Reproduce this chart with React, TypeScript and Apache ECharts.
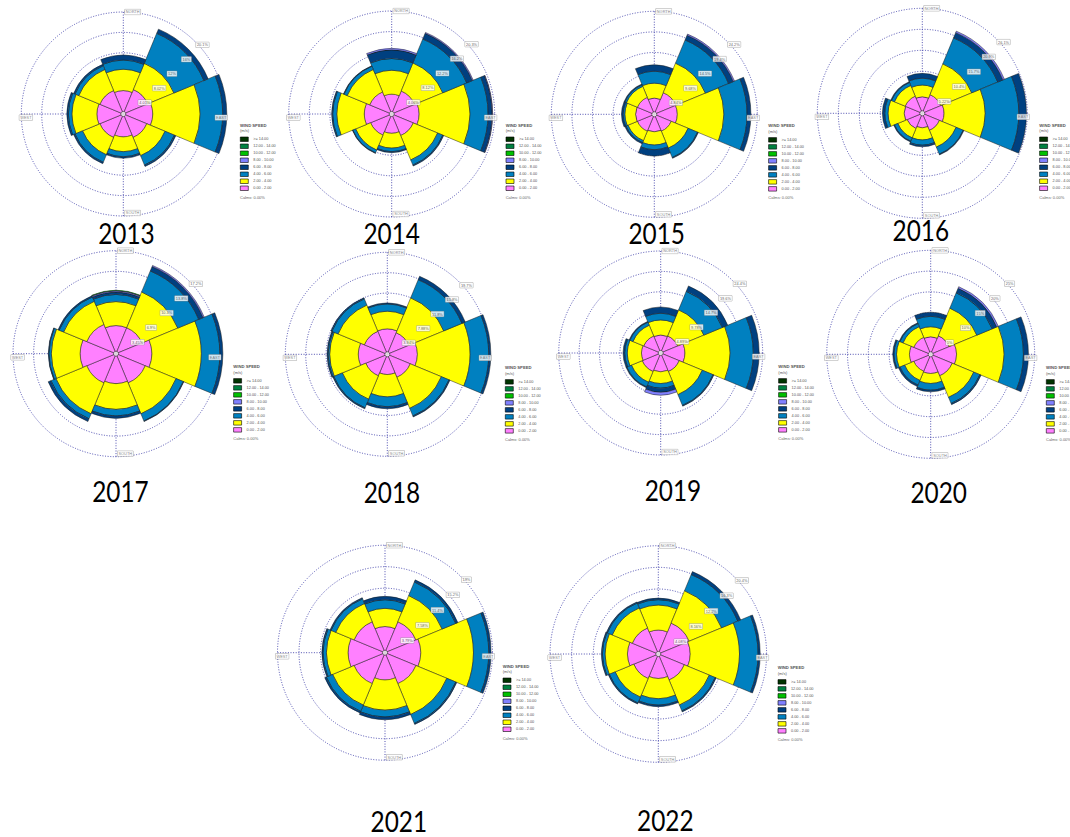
import { useEffect, useRef } from 'react';
import * as echarts from 'echarts';

// ---------- data ----------
const DIRECTIONS = ['N', 'NE', 'E', 'SE', 'S', 'SW', 'W', 'NW'];
const SPEED_CLASSES = ['0.00 - 2.00', '2.00 - 4.00', '4.00 - 6.00', '6.00 - 8.00', '8.00 - 10.00', '10.00 - 12.00', '12.00 - 14.00', '>= 14.00'];
const YEARS = ['2013', '2014', '2015', '2016', '2017', '2018', '2019', '2020', '2021', '2022'];
const COMPASS = ['NORTH', 'EAST', 'SOUTH', 'WEST'];
const COMPASS_ANGLES = [0, 90, 180, 270];
const CALMS = ['0.00%', '0.00%', '0.00%', '0.00%', '0.00%', '0.00%', '0.00%', '0.00%', '0.00%', '0.00%'];

// frequency (%) rows = speed class (0-2, 2-4, 4-6, 6-8, 8-10, 10-12), columns = N..NW
const F2013 = [
  [4.6, 5.2, 5.8, 5.0, 4.5, 5.0, 5.2, 5.0],
  [4.2, 5.6, 9.3, 3.9, 2.9, 3.7, 4.9, 4.5],
  [1.8, 6.4, 4.5, 2.0, 1.0, 1.6, 0.7, 0.8],
  [1.0, 0.9, 0.8, 0.3, 0.3, 0.3, 0.3, 0.3],
];
const F2014 = [
  [3.9, 4.9, 5.4, 4.6, 3.8, 4.5, 5.4, 4.7],
  [4.7, 6.0, 10.0, 5.2, 2.9, 3.2, 5.4, 4.8],
  [2.3, 5.1, 3.6, 1.1, 0.7, 0.6, 0.8, 0.7],
  [1.7, 1.2, 0.8, 0.2, 0.2, 0.1, 0.2, 0.1],
  [0.3, 0.2, 0.1, 0, 0, 0, 0, 0],
];
const F2015 = [
  [3.8, 5.5, 5.4, 4.3, 4.1, 4.3, 4.4, 4.3],
  [3.5, 7.5, 10.9, 4.3, 3.1, 2.4, 2.5, 2.8],
  [2.8, 5.9, 5.5, 2.4, 1.1, 0.5, 0.4, 0.4],
  [1.5, 1.2, 0.9, 0.2, 1.5, 0.3, 0.4, 0.2],
  [0, 0.3, 0, 0, 0, 0, 0, 0],
];
const F2016 = [
  [4.1, 5.0, 5.4, 4.6, 3.6, 4.1, 4.5, 4.6],
  [2.9, 8.3, 10.2, 4.5, 3.0, 2.5, 4.0, 2.9],
  [1.7, 7.0, 8.4, 1.9, 1.3, 0.9, 0.8, 0.8],
  [1.2, 1.4, 1.9, 0.2, 0.4, 0.2, 0.6, 0.2],
  [0, 0.4, 0, 0, 0, 0, 0, 0],
];
const F2017 = [
  [4.7, 4.7, 6.0, 5.3, 5.0, 5.3, 6.0, 5.3],
  [4.0, 6.5, 8.3, 5.6, 4.3, 5.6, 4.8, 4.2],
  [1.2, 3.8, 3.1, 1.3, 1.1, 0.9, 0.4, 0.8],
  [0.4, 0.8, 0.5, 0.1, 0.4, 0.5, 0.1, 0.2],
  [0.2, 0.2, 0, 0, 0, 0, 0, 0],
  [0.1, 0, 0, 0, 0, 0, 0, 0],
];
const F2018 = [
  [4.9, 4.5, 5.8, 4.8, 3.9, 4.5, 5.6, 4.8],
  [3.4, 7.3, 10.2, 6.5, 4.3, 4.9, 5.5, 5.5],
  [1.4, 3.8, 3.6, 1.6, 1.9, 1.8, 0.3, 1.3],
  [0.2, 0.7, 0.4, 0.2, 0.4, 0.2, 0.2, 0.2],
];
const F2019 = [
  [4.3, 4.4, 5.8, 4.8, 4.5, 4.8, 4.6, 4.4],
  [3.6, 6.8, 10.8, 6.0, 2.8, 2.8, 3.4, 2.8],
  [1.6, 4.8, 5.6, 2.8, 1.1, 1.2, 0.6, 0.8],
  [1.5, 1.4, 1.4, 0.2, 1.0, 0.2, 0.4, 0.2],
  [0, 0, 0, 0, 0.7, 0, 0, 0],
];
const F2020 = [
  [4.2, 4.8, 6.2, 5.6, 4.6, 4.4, 5.1, 4.4],
  [2.4, 7.2, 11.4, 5.6, 2.4, 2.4, 3.1, 2.8],
  [2.5, 4.0, 4.7, 1.6, 1.6, 1.2, 0.6, 0.8],
  [1.0, 1.2, 1.2, 0.3, 0.4, 0.4, 0.3, 0.2],
  [0, 0.4, 0, 0, 0, 0, 0, 0],
];
const F2021 = [
  [4.6, 5.9, 6.3, 5.9, 4.8, 5.9, 6.5, 5.9],
  [3.2, 5.0, 9.3, 5.9, 5.3, 4.1, 3.8, 3.5],
  [1.5, 2.6, 2.7, 1.7, 1.2, 1.2, 0.6, 0.9],
  [0.6, 0.4, 0.4, 0.2, 0.5, 0.3, 0.2, 0.2],
];
const F2022 = [
  [4.5, 6.3, 6.0, 5.3, 4.6, 5.0, 5.8, 5.3],
  [4.7, 6.6, 9.3, 5.1, 3.8, 3.8, 4.2, 4.1],
  [1.0, 3.3, 3.5, 1.2, 1.2, 1.2, 0.5, 1.0],
  [0.3, 0.6, 0.4, 0.2, 0.3, 0.2, 0.2, 0.2],
];
const FREQ = [F2013, F2014, F2015, F2016, F2017, F2018, F2019, F2020, F2021, F2022];

// outer ring value (%) and ring tick labels
const RING_MAX = [20.1, 20.3, 24.2, 26.1, 17.25, 19.7, 24.45, 25, 18.95, 20.4];
const RINGS_2013 = ['4.01%', '8.02%', '12%', '16%', '20.1%'];
const RINGS_2014 = ['4.06%', '8.12%', '12.2%', '16.2%', '20.3%'];
const RINGS_2015 = ['4.84%', '9.68%', '14.5%', '19.4%', '24.2%'];
const RINGS_2016 = ['5.22%', '10.4%', '15.7%', '20.9%', '26.1%'];
const RINGS_2017 = ['3.45%', '6.9%', '10.3%', '13.8%', '17.2%'];
const RINGS_2018 = ['3.94%', '7.88%', '11.8%', '15.8%', '19.7%'];
const RINGS_2019 = ['4.89%', '9.78%', '14.7%', '19.6%', '24.4%'];
const RINGS_2020 = ['5%', '10%', '15%', '20%', '25%'];
const RINGS_2021 = ['3.79%', '7.58%', '11.4%', '15.2%', '19%'];
const RINGS_2022 = ['4.08%', '8.16%', '12.2%', '16.3%', '20.4%'];
const RING_LABELS = [RINGS_2013, RINGS_2014, RINGS_2015, RINGS_2016, RINGS_2017, RINGS_2018, RINGS_2019, RINGS_2020, RINGS_2021, RINGS_2022];

// ---------- layout & style ----------
const LAYOUT = [
  { cx: 123.3, cy: 114, r: 102, lx: 240, ly: 136.7, yx: 126.5, yy: 233 },
  { cx: 391.7, cy: 114, r: 103, lx: 505.7, ly: 136.7, yx: 391.7, yy: 233 },
  { cx: 654.3, cy: 114.3, r: 103, lx: 768.3, ly: 137.3, yx: 656.7, yy: 233 },
  { cx: 922.3, cy: 113.3, r: 105, lx: 1039.3, ly: 136.7, yx: 920.8, yy: 230 },
  { cx: 116, cy: 353.7, r: 103, lx: 233.3, ly: 378.3, yx: 120.5, yy: 491.7 },
  { cx: 387.3, cy: 354.3, r: 102, lx: 505, ly: 379.3, yx: 392, yy: 492.5 },
  { cx: 660.7, cy: 353, r: 102, lx: 778.3, ly: 378.3, yx: 673, yy: 490 },
  { cx: 930.7, cy: 354.3, r: 104, lx: 1046, ly: 379.3, yx: 938.7, yy: 492.5 },
  { cx: 385, cy: 652.7, r: 107.5, lx: 502.7, ly: 677.7, yx: 398.8, yy: 821 },
  { cx: 658.3, cy: 654, r: 108.3, lx: 777.7, ly: 679.3, yx: 665.3, yy: 820 },
];
const CLASS_COLORS = ['#ff80ff', '#ffff00', '#0080c0', '#004080', '#8080ff', '#00c000', '#008040', '#003300'];
const GRID_COLOR = '#3c3ca8';
const SMALL_FONT = 'Liberation Sans';

function buildOption() {
  const polar: any[] = [];
  const angleAxis: any[] = [];
  const radiusAxis: any[] = [];
  const series: any[] = [];
  const legend: any[] = [];
  const graphic: any[] = [];
  const hidden = { show: false };
  const gridLine = { show: true, lineStyle: { color: GRID_COLOR, type: [1, 1.6], width: 0.9 } };
  const boxLabel = {
    show: true,
    fontSize: 3.9,
    fontFamily: SMALL_FONT,
    color: '#444',
    backgroundColor: '#ffffff',
    borderColor: '#8a8a8a',
    borderWidth: 0.4,
    padding: [0.6, 1],
  };

  YEARS.forEach((year, k) => {
    const L = LAYOUT[k];
    const gridIdx = 2 * k;
    const barIdx = 2 * k + 1;
    polar.push({ center: [L.cx, L.cy], radius: L.r });
    polar.push({ center: [L.cx, L.cy], radius: L.r });

    // grid polar: 5 rings, 4 compass spokes
    angleAxis.push({
      polarIndex: gridIdx, type: 'value', min: 0, max: 360, interval: 90, startAngle: 90, clockwise: true,
      axisLine: hidden, axisTick: hidden, axisLabel: hidden, splitLine: gridLine,
    });
    radiusAxis.push({
      polarIndex: gridIdx, type: 'value', min: 0, max: 5, interval: 1,
      axisLine: hidden, axisTick: hidden, axisLabel: hidden, splitLine: gridLine,
    });
    // petal polar
    angleAxis.push({
      polarIndex: barIdx, type: 'category', data: DIRECTIONS, startAngle: 112.5, clockwise: true, boundaryGap: true,
      axisLine: hidden, axisTick: hidden, axisLabel: hidden, splitLine: hidden,
    });
    radiusAxis.push({
      polarIndex: barIdx, type: 'value', min: 0, max: RING_MAX[k],
      axisLine: hidden, axisTick: hidden, axisLabel: hidden, splitLine: hidden,
    });

    SPEED_CLASSES.forEach((name, c) => {
      const row = FREQ[k][c];
      series.push({
        type: 'bar', name, coordinateSystem: 'polar', polarIndex: barIdx, stack: 'rose' + k,
        data: row ? row.map((v) => (v > 0 ? v : null)) : [],
        barCategoryGap: '0%', barGap: '0%', clip: false, z: 2, silent: true,
        itemStyle: { color: CLASS_COLORS[c], borderColor: '#1a1a1a', borderWidth: 0.5 },
      });
    });

    const labelData: any[] = [];
    RING_LABELS[k].forEach((t, i) => {
      labelData.push({
        value: [i + 1, 45],
        label: { ...boxLabel, color: '#333', formatter: t, position: [0, 0], align: 'left', verticalAlign: 'middle', offset: [0.5, 3] },
      });
    });
    const compassPlace = [
      { align: 'left', verticalAlign: 'middle', offset: [1.5, 0] },
      { align: 'right', verticalAlign: 'top', offset: [2, 1] },
      { align: 'left', verticalAlign: 'middle', offset: [1.5, -3] },
      { align: 'left', verticalAlign: 'top', offset: [-2, 1] },
    ];
    COMPASS.forEach((t, i) => {
      labelData.push({
        value: [5, COMPASS_ANGLES[i]],
        label: { ...boxLabel, color: '#666', formatter: t, position: [0, 0], ...compassPlace[i] },
      });
    });
    series.push({
      type: 'scatter', coordinateSystem: 'polar', polarIndex: gridIdx, silent: true, z: 5,
      symbol: 'circle', symbolSize: 0.01, itemStyle: { color: 'rgba(0,0,0,0)' },
      data: labelData,
    });
    series.push({
      type: 'scatter', coordinateSystem: 'polar', polarIndex: gridIdx, silent: true, z: 4,
      symbol: 'circle', symbolSize: 5,
      itemStyle: { color: '#ffffff', borderColor: '#222', borderWidth: 0.7 },
      data: [[0, 0]],
    });

    legend.push({
      orient: 'vertical', left: L.lx, top: L.ly, padding: 0,
      itemWidth: 8, itemHeight: 4.5, itemGap: 1.9, icon: 'rect', selectedMode: false,
      data: [...SPEED_CLASSES].reverse(),
      itemStyle: { borderColor: '#000', borderWidth: 0.6 },
      textStyle: { fontSize: 3.8, lineHeight: 4.5, color: '#555', fontFamily: SMALL_FONT },
    });

    graphic.push({
      type: 'text', x: L.lx, y: L.ly - 11.5, silent: true,
      style: { text: 'WIND SPEED', fontSize: 4.2, fontFamily: SMALL_FONT, fontWeight: 'bold', fill: '#555', align: 'left', verticalAlign: 'middle', textAlign: 'left', textVerticalAlign: 'middle' },
    });
    graphic.push({
      type: 'text', x: L.lx, y: L.ly - 6, silent: true,
      style: { text: '(m/s)', fontSize: 4, fontFamily: SMALL_FONT, fill: '#555', align: 'left', verticalAlign: 'middle', textAlign: 'left', textVerticalAlign: 'middle' },
    });
    graphic.push({
      type: 'text', x: L.lx, y: L.ly + 60.5, silent: true,
      style: { text: 'Calms: ' + CALMS[k], fontSize: 4, fontFamily: SMALL_FONT, fill: '#666', align: 'left', verticalAlign: 'middle', textAlign: 'left', textVerticalAlign: 'middle' },
    });
    graphic.push({
      type: 'text', x: L.yx, y: L.yy, scaleX: 0.87, silent: true,
      style: { text: year, fontSize: 28, fontFamily: 'Lato', fill: '#000', align: 'center', verticalAlign: 'middle', textAlign: 'center', textVerticalAlign: 'middle' },
    });
  });

  return {
    animation: false,
    backgroundColor: '#ffffff',
    polar, angleAxis, radiusAxis, series, legend, graphic,
  };
}

export default function App() {
  const ref = useRef<HTMLDivElement>(null);
  useEffect(() => {
    if (!ref.current) return;
    const chart = echarts.init(ref.current, null, { renderer: 'svg' });
    chart.setOption(buildOption() as any);
    return () => chart.dispose();
  }, []);
  return (
    <div
      ref={ref}
      style={{ position: 'fixed', left: 0, top: 0, width: 1070, height: 837, background: '#fff' }}
    />
  );
}
